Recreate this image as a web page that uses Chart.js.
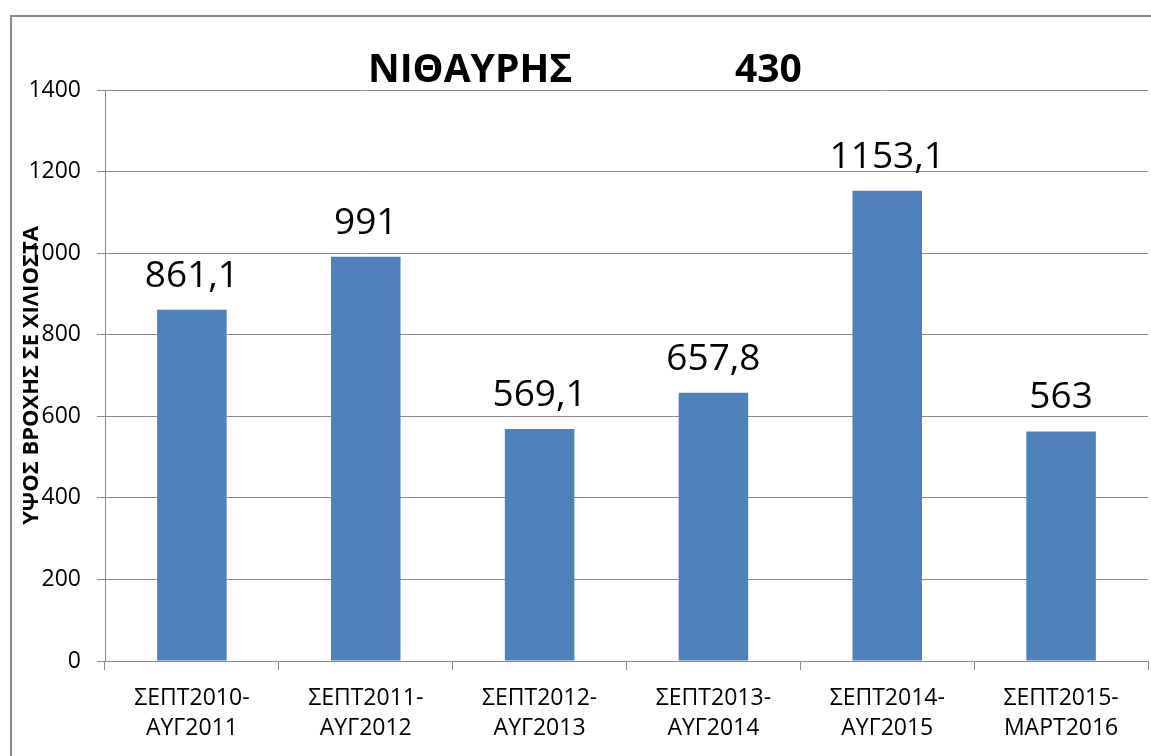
<!DOCTYPE html>
<html>
<head>
<meta charset="utf-8">
<script src="https://cdn.jsdelivr.net/npm/chart.js@4"></script>
<style>
  html, body { margin: 0; padding: 0; background: #fff; }
  #wrap { position: relative; width: 1151px; height: 756px; }
</style>
</head>
<body>
<div id="wrap"><canvas id="c" width="1151" height="756"></canvas></div>
<script>
const categories = [
  ["ΣΕΠΤ2010-", "ΑΥΓ2011"],
  ["ΣΕΠΤ2011-", "ΑΥΓ2012"],
  ["ΣΕΠΤ2012-", "ΑΥΓ2013"],
  ["ΣΕΠΤ2013-", "ΑΥΓ2014"],
  ["ΣΕΠΤ2014-", "ΑΥΓ2015"],
  ["ΣΕΠΤ2015-", "ΜΑΡΤ2016"]
];
const rainfall = [861.1, 991, 569.1, 657.8, 1153.1, 563];
const yTicks = [0, 200, 400, 600, 800, 1000, 1200, 1400];
const titleLeft = "ΝΙΘΑΥΡΗΣ";
const titleRight = "430";
const yTitle = "ΥΨΟΣ ΒΡΟΧΗΣ ΣΕ ΧΙΛΙΟΣΤΑ";

const FONT = "'Open Sans', 'DejaVu Sans', sans-serif";
const GRID = "#8a8a8a";

const decor = {
  id: 'decor',
  beforeDraw(chart) {
    const ctx = chart.ctx;
    ctx.save();
    ctx.fillStyle = '#fff';
    ctx.fillRect(0, 0, chart.width, chart.height);
    ctx.strokeStyle = GRID;
    ctx.lineWidth = 2;
    ctx.strokeRect(11, 16, chart.width + 20, chart.height + 20);
    ctx.restore();
  },
  afterDraw(chart) {
    const ctx = chart.ctx;
    const area = chart.chartArea;
    ctx.save();
    // title
    ctx.fillStyle = '#000';
    ctx.font = "bold 39px " + FONT;
    ctx.textBaseline = 'alphabetic';
    ctx.textAlign = 'left';
    ctx.fillText(titleLeft, 368, 82);
    ctx.fillText(titleRight, 735, 82);
    // y-axis title (overlapping tick labels as in reference)
    ctx.save();
    ctx.translate(32, (area.top + area.bottom) / 2);
    ctx.rotate(-Math.PI / 2);
    ctx.font = "bold 22px " + FONT;
    ctx.textAlign = 'center';
    ctx.textBaseline = 'middle';
    ctx.fillText(yTitle, 0, 0);
    ctx.restore();
    // data labels
    const meta = chart.getDatasetMeta(0);
    ctx.font = "37px " + FONT;
    ctx.textAlign = 'center';
    ctx.textBaseline = 'alphabetic';
    meta.data.forEach((bar, i) => {
      const txt = String(rainfall[i]).replace('.', ',');
      ctx.fillText(txt, bar.x, bar.y - 23);
    });
    ctx.restore();
  }
};

new Chart(document.getElementById('c'), {
  type: 'bar',
  data: {
    labels: categories,
    datasets: [{
      data: rainfall,
      backgroundColor: '#4F81BD',
      borderWidth: 0,
      categoryPercentage: 1.0,
      barPercentage: 0.4
    }]
  },
  options: {
    responsive: false,
    devicePixelRatio: 1,
    animation: false,
    layout: { padding: { left: 0, right: 3, top: 90, bottom: 0 } },
    plugins: {
      legend: { display: false },
      title: { display: false },
      tooltip: { enabled: false }
    },
    scales: {
      x: {
        grid: {
          offset: true,
          drawOnChartArea: false,
          drawTicks: true,
          tickLength: 9,
          color: GRID,
          lineWidth: 1
        },
        border: { display: true, color: GRID, width: 1 },
        ticks: {
          color: '#000',
          font: { family: FONT, size: 23, lineHeight: 1.3 },
          padding: 14,
          maxRotation: 0,
          autoSkip: false
        },
        afterFit(scale) { scale.height = 95; }
      },
      y: {
        min: 0,
        max: 1400,
        afterBuildTicks(scale) { scale.ticks = yTicks.map(v => ({ value: v })); },
        grid: {
          color: GRID,
          lineWidth: 1,
          drawTicks: true,
          tickLength: 8
        },
        border: { display: true, color: GRID, width: 1 },
        ticks: {
          color: '#000',
          font: { family: FONT, size: 23 },
          padding: 16,
          callback: (v) => String(v)
        },
        afterFit(scale) { scale.width = 105; }
      }
    }
  },
  plugins: [decor]
});
</script>
</body>
</html>
